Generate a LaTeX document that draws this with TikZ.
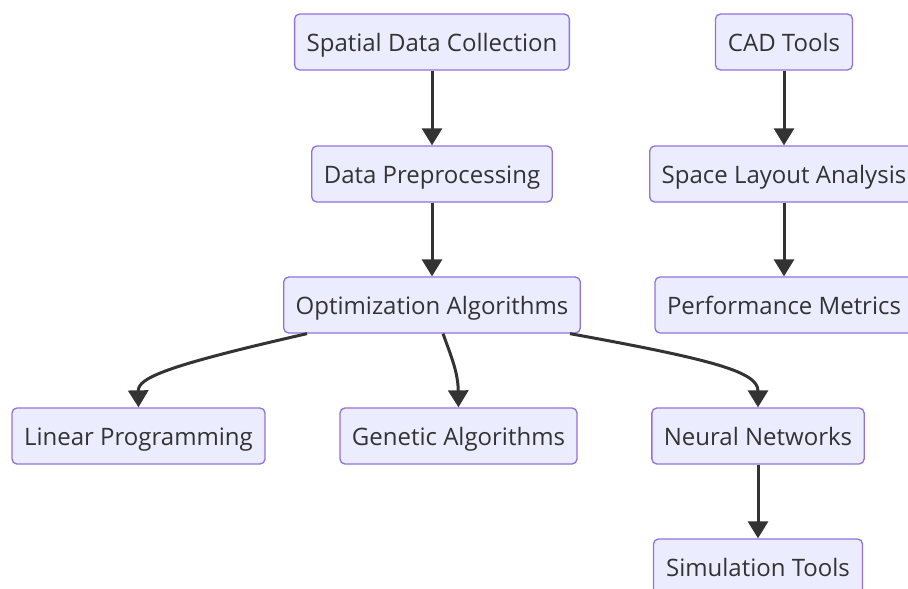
\documentclass[tikz,border=0pt]{standalone}
\usepackage{fontspec}
\setmainfont{Open Sans}
\usetikzlibrary{arrows.meta}
\definecolor{boxfill}{HTML}{ECECFF}
\definecolor{boxline}{HTML}{9370DB}
\definecolor{edgecol}{HTML}{333333}
\definecolor{txtcol}{HTML}{333333}
\begin{document}
\begin{tikzpicture}[x=1pt, y=-1pt, font=\fontsize{24}{28}\selectfont,
          box/.style={draw=boxline, fill=boxfill, line width=1.3pt, rounded corners=5pt,
                      text=txtcol, minimum height=56pt, inner xsep=12pt,
                      text height=23pt, text depth=5pt},
          edge/.style={draw=edgecol, line width=3pt, -{Triangle[length=17pt,width=20pt]}}]
        \useasboundingbox (0,0) rectangle (908,589);
        \node[box, minimum width=274pt] (col) at (432,42) {Spatial Data Collection};
        \node[box, minimum width=240pt] (pre) at (432,174) {Data Preprocessing};
        \node[box, minimum width=296pt] (opt) at (432,305) {Optimization Algorithms};
        \node[box, minimum width=137pt] (cad) at (784,42) {CAD Tools};
        \node[box, minimum width=268pt] (lay) at (784,174) {Space Layout Analysis};
        \node[box, minimum width=256pt] (perf) at (784,305) {Performance Metrics};
        \node[box, minimum width=253pt] (lin) at (138.5,436) {Linear Programming};
        \node[box, minimum width=237pt] (gen) at (458.5,436) {Genetic Algorithms};
        \node[box, minimum width=212pt] (nn) at (758,436) {Neural Networks};
        \node[box, minimum width=209pt] (sim) at (758,567) {Simulation Tools};
        \draw[edge] (col) -- (pre);
        \draw[edge] (pre) -- (opt);
        \draw[edge] (cad) -- (lay);
        \draw[edge] (lay) -- (perf);
        \draw[edge] (nn) -- (sim);
        \draw[edge] ([xshift=-125pt]opt.south) .. controls (165,366) and (138,378) .. (lin.north);
        \draw[edge] ([xshift=11pt]opt.south) .. controls (451,356) and (458,372) .. (gen.north);
        \draw[edge] ([xshift=138pt]opt.south) .. controls (715,360) and (758,372) .. (nn.north);
      \end{tikzpicture}
\end{document}
